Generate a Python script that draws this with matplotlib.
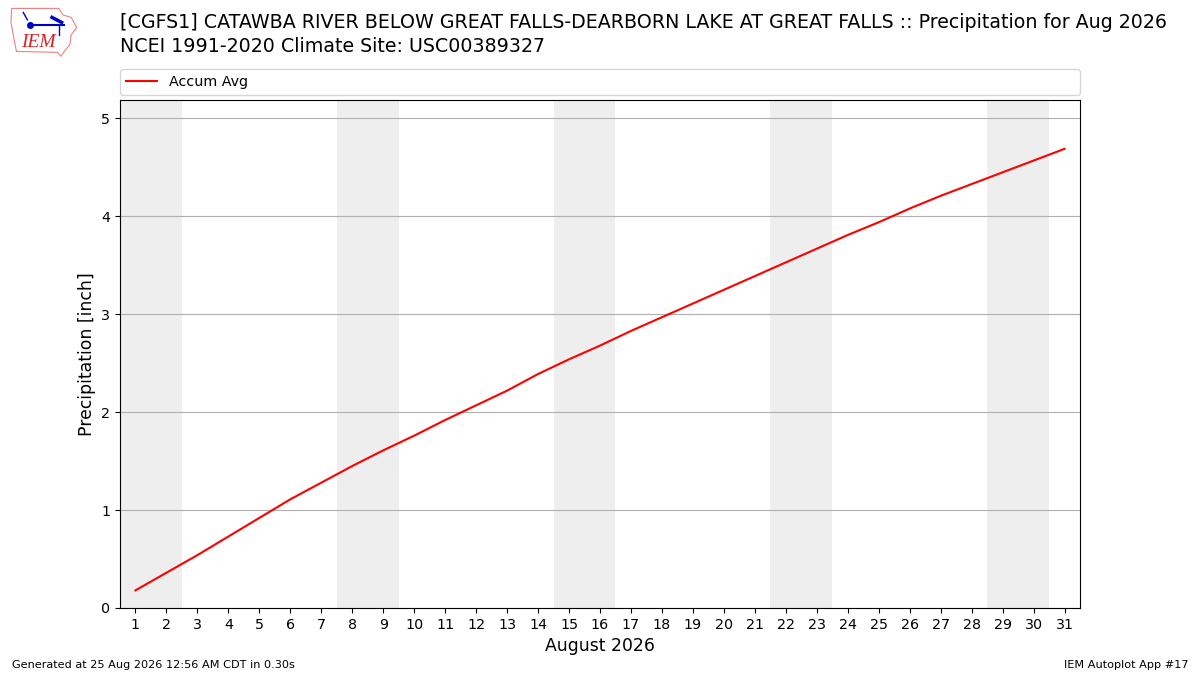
import numpy as np
import matplotlib
matplotlib.use("Agg")
import matplotlib.pyplot as plt
from matplotlib.patches import Polygon

plt.rcParams["font.family"] = ["DejaVu Sans"]

# accumulated average precipitation, Aug 1..31 (inch)
days = list(range(1, 32))
accum = [0.18, 0.36, 0.54, 0.73, 0.92, 1.11, 1.28, 1.45, 1.61, 1.76,
         1.92, 2.07, 2.22, 2.39, 2.54, 2.68, 2.83, 2.97, 3.11, 3.25,
         3.39, 3.53, 3.67, 3.81, 3.94, 4.08, 4.21, 4.33, 4.45, 4.57, 4.69]
weekends = [(1, 2), (8, 9), (15, 16), (22, 23), (29, 30)]

title1 = "[CGFS1] CATAWBA RIVER BELOW GREAT FALLS-DEARBORN LAKE AT GREAT FALLS :: Precipitation for Aug 2026"
title2 = "NCEI 1991-2020 Climate Site: USC00389327"

fig = plt.figure(figsize=(12, 6.75), dpi=100)
ax = fig.add_axes([0.1, 0.0993, 0.8, 0.7527])

# weekend shading
for a, b in weekends:
    ax.axvspan(a - 0.5, b + 0.5, color="#eeeeee", zorder=0, lw=0)

ax.plot(days, accum, color="r", lw=1.5, label="Accum Avg", zorder=3)

ax.set_xlim(0.5, 31.5)
ax.set_ylim(0, 5.19)
ax.set_xticks(days)
ax.set_yticks([0, 1, 2, 3, 4, 5])
ax.tick_params(labelsize=10.3)
ax.grid(True, axis="y", color="#b0b0b0", lw=0.8)
ax.set_axisbelow(True)
ax.set_ylabel("Precipitation [inch]", fontsize=12.4)
ax.set_xlabel("August 2026", fontsize=12.4)

ax.legend(loc="lower left", bbox_to_anchor=(0, 1.01, 1, 0.05), mode="expand",
          ncol=1, fontsize=10.3, borderaxespad=0, handlelength=2.2)

fig.text(0.1, 0.98, title1, fontsize=13.65, va="top", ha="left")
fig.text(0.1, 0.945, title2, fontsize=13.65, va="top", ha="left")

fig.text(0.01, 0.015, "Generated at 25 Aug 2026 12:56 AM CDT in 0.30s", fontsize=8.15, ha="left", va="center")
fig.text(0.99, 0.015, "IEM Autoplot App #17", fontsize=8.15, ha="right", va="center")

# rough logo
lax = fig.add_axes([0.008, 0.915, 0.057, 0.074])
lax.set_xlim(0, 1)
lax.set_ylim(0, 1)
lax.axis("off")
outline = np.array([[0.03, 0.98], [0.72, 0.98], [0.78, 0.85], [0.9, 0.8], [0.98, 0.6],
                    [0.9, 0.45], [0.88, 0.25], [0.8, 0.12], [0.75, 0.02], [0.7, 0.1],
                    [0.1, 0.12], [0.06, 0.4], [0.02, 0.7]])
lax.add_patch(Polygon(outline, closed=True, fill=False, ec="#f08080", lw=0.8))
lax.plot([0.3, 0.8], [0.64, 0.64], color="#0000cc", lw=1.5)
lax.plot([0.3], [0.64], "o", color="#0000cc", ms=4)
lax.plot([0.62, 0.76], [0.8, 0.7], color="#0000cc", lw=2.5)
lax.plot([0.2, 0.26], [0.9, 0.75], color="#0000cc", lw=1)
lax.plot([0.72, 0.72], [0.64, 0.45], color="#0000cc", lw=1)
lax.text(0.17, 0.3, "IEM", color="#dd2222", fontsize=14, style="italic",
         family="Liberation Serif", va="center")

fig.savefig("out.png", dpi=100)
